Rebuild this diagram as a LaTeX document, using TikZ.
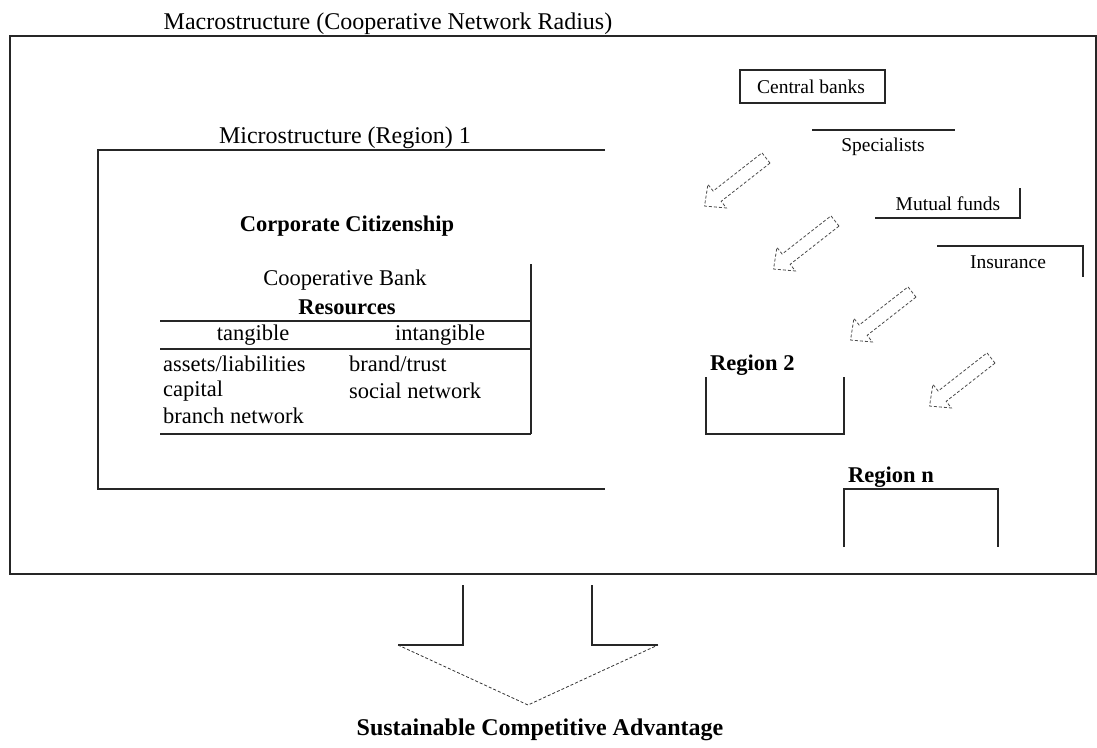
\documentclass[tikz,border=0pt]{standalone}
\usepackage{fontspec}
\setmainfont{Liberation Serif}
\begin{document}
\begin{tikzpicture}[x=1pt,y=-1pt,
  frame/.style={line width=1.5pt, black!85},
  thinframe/.style={line width=1.3pt, black!85},
  big/.style={inner sep=0pt, font=\fontsize{24}{28}\selectfont},
  lbl/.style={inner sep=0pt, font=\fontsize{22.5}{26}\selectfont},
  lblb/.style={inner sep=0pt, font=\fontsize{22.5}{26}\selectfont\bfseries},
  small/.style={inner sep=0pt, font=\fontsize{19.5}{23}\selectfont},
  hollow/.style={draw=black!70, densely dashed, line width=0.8pt, fill=white},
  flowarrow/.pic={
    \draw[hollow] (0,-6.5) -- (62,-6.5) -- (62,-15) -- (78,0) -- (62,15) -- (62,6.5) -- (0,6.5) -- cycle;
  }]
\useasboundingbox (0,0) rectangle (1097,747);

% macrostructure
\node[big] (macro) at (388,24) {Macrostructure (Cooperative Network Radius)};
\draw[frame] (10,36) rectangle (1096,574);

% microstructure, region 1 (open on the right)
\node[big] (micro) at (345,138) {Microstructure (Region) 1};
\draw[frame] (605,150) -- (98,150) -- (98,489) -- (605,489);
\node[lblb] (cc) at (347,226) {Corporate Citizenship};

% resources table
\node[lbl] (bank) at (345,280) {Cooperative Bank};
\node[lblb] (res) at (347,307) {Resources};
\draw[thinframe] (531,264) -- (531,434);
\draw[thinframe] (160,321) -- (531,321);
\draw[thinframe] (160,349) -- (531,349);
\draw[thinframe] (160,434) -- (531,434);
\node[lbl] (tang) at (253,335) {tangible};
\node[lbl] (intang) at (440,335) {intangible};
\node[lbl, anchor=west] (assets) at (163,364) {assets/liabilities};
\node[lbl, anchor=west] (capital) at (163,391) {capital};
\node[lbl, anchor=west] (branch) at (163,416) {branch network};
\node[lbl, anchor=west] (brand) at (349,364) {brand/trust};
\node[lbl, anchor=west] (social) at (349,391) {social network};

% cooperative partners
\draw[thinframe] (740,70) rectangle (885,103);
\node[small] (central) at (811,87) {Central banks};
\draw[thinframe] (812,130) -- (955,130);
\node[small] (spec) at (883,147) {Specialists};
\draw[thinframe] (875,218) -- (1020,218) -- (1020,188);
\node[small] (mutual) at (948,204) {Mutual funds};
\draw[thinframe] (937,246) -- (1083,246) -- (1083,277);
\node[small] (ins) at (1008,262) {Insurance};

% flows towards the regions
\pic[rotate=218] at (766,158) {flowarrow};
\pic[rotate=218] at (835,221) {flowarrow};
\pic[rotate=218] at (912,292) {flowarrow};
\pic[rotate=218] at (991,358) {flowarrow};

% other regions
\node[lblb, anchor=west] (r2) at (710,365) {Region 2};
\draw[thinframe] (706,377) -- (706,434) -- (844,434) -- (844,377);
\node[lblb, anchor=west] (rn) at (848,477) {Region n};
\draw[thinframe] (844,547) -- (844,489) -- (998,489) -- (998,547);

% outcome arrow
\coordinate (tip) at (528,705);
\draw[thinframe] (463,585) -- (463,645) -- (398,645);
\draw[thinframe] (592,585) -- (592,645) -- (658,645);
\draw[densely dashed, line width=0.8pt, black!80] (398,645) -- (tip) -- (658,645);
\node[big, font=\fontsize{24}{28}\selectfont\bfseries] (sca) at (540,730) {Sustainable Competitive Advantage};
\end{tikzpicture}
\end{document}
